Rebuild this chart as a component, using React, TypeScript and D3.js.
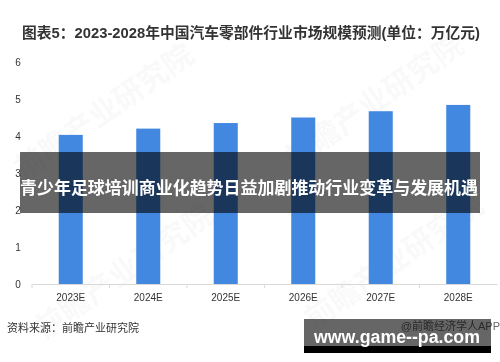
import React, { useRef, useEffect } from "react";
import * as d3 from "d3";

const years = ["2023E", "2024E", "2025E", "2026E", "2027E", "2028E"];
const marketSize = [4.03, 4.2, 4.35, 4.5, 4.67, 4.84];
const yTicks = [0, 1, 2, 3, 4, 5, 6];

const title = "图表5：2023-2028年中国汽车零部件行业市场规模预测(单位：万亿元)";
const banner = "青少年足球培训商业化趋势日益加剧推动行业变革与发展机遇";
const source = "资料来源：前瞻产业研究院";
const credit = "@前瞻经济学人APP";
const site = "www.game--pa.com";

const FONT = '"Liberation Sans", "Noto Sans CJK SC", sans-serif';

const App = () => {
  const ref = useRef<SVGSVGElement | null>(null);

  useEffect(() => {
    document.body.style.margin = "0";
    if (!ref.current) return;
    const svg = d3.select(ref.current);
    svg.selectAll("*").remove();

    const W = 500;
    const H = 362;

    svg.append("rect").attr("width", W).attr("height", H).attr("fill", "#fff");

    const x = d3.scaleBand().domain(years).range([32, 497]).paddingInner(0.69).paddingOuter(0.345);
    const y = d3.scaleLinear().domain([0, 6]).range([284, 62]);

    // watermarks
    const wm = svg.append("g").attr("fill", "#000").attr("opacity", 0.025)
      .style("font-family", FONT).style("font-weight", "bold").style("font-size", "30px");
    [[110, 120], [380, 110], [130, 280], [400, 270]].forEach(([cx, cy]) => {
      wm.append("text")
        .attr("transform", `translate(${cx},${cy}) rotate(-35)`)
        .attr("text-anchor", "middle")
        .text("前瞻产业研究院");
    });

    // title
    svg.append("text")
      .attr("x", 22).attr("y", 38)
      .attr("fill", "#333")
      .attr("textLength", 458).attr("lengthAdjust", "spacingAndGlyphs")
      .style("font-family", FONT).style("font-weight", "bold").style("font-size", "14.5px")
      .text(title);

    // y axis labels
    svg.append("g").selectAll("text").data(yTicks).enter().append("text")
      .attr("x", 18).attr("y", (d) => y(d) + 3.5)
      .attr("text-anchor", "middle")
      .attr("fill", "#333")
      .style("font-family", FONT).style("font-size", "10px")
      .text((d) => d);

    // bars
    svg.append("g").selectAll("rect").data(marketSize).enter().append("rect")
      .attr("x", (d, i) => x(years[i]) as number)
      .attr("y", (d) => y(d))
      .attr("width", x.bandwidth())
      .attr("height", (d) => y(0) - y(d))
      .attr("fill", "#4287e0");

    // x axis
    const xa = svg.append("g").attr("transform", `translate(0,${y(0)})`)
      .call(d3.axisBottom(x).tickSize(0).tickPadding(10));
    xa.select(".domain").attr("stroke", "#d9d9d9");
    xa.selectAll("text").attr("fill", "#333").style("font-family", FONT).style("font-size", "10px");
    const step = x.step();
    xa.append("g").selectAll("line").data(d3.range(years.length)).enter().append("line")
      .attr("x1", (i) => 32 + i * step).attr("x2", (i) => 32 + i * step)
      .attr("y1", 0).attr("y2", 4).attr("stroke", "#d9d9d9");

    // footer
    svg.append("text")
      .attr("x", 7).attr("y", 332)
      .attr("fill", "#333")
      .style("font-family", FONT).style("font-size", "11px")
      .text(source);
    svg.append("text")
      .attr("x", 500).attr("y", 330)
      .attr("text-anchor", "end")
      .attr("fill", "#666")
      .style("font-family", FONT).style("font-size", "11px")
      .text(credit);

    // overlay banner
    svg.append("rect")
      .attr("x", 20).attr("y", 152).attr("width", 460).attr("height", 61)
      .attr("fill", "#000").attr("opacity", 0.6);
    svg.append("text")
      .attr("x", 249).attr("y", 194)
      .attr("text-anchor", "middle")
      .attr("fill", "#fff")
      .attr("textLength", 458).attr("lengthAdjust", "spacingAndGlyphs")
      .style("font-family", FONT).style("font-weight", "bold").style("font-size", "17.5px")
      .text(banner);

    // site box
    svg.append("rect")
      .attr("x", 304).attr("y", 319).attr("width", 187).attr("height", 34)
      .attr("fill", "#000").attr("opacity", 0.6);
    svg.append("rect")
      .attr("x", 304).attr("y", 346).attr("width", 187).attr("height", 7)
      .attr("fill", "#000");
    svg.append("text")
      .attr("x", 397).attr("y", 343)
      .attr("text-anchor", "middle")
      .attr("fill", "#fff")
      .attr("textLength", 166).attr("lengthAdjust", "spacingAndGlyphs")
      .style("font-family", FONT).style("font-weight", "bold").style("font-size", "18px")
      .text(site);
  }, []);

  return <svg ref={ref} width={500} height={362} style={{ display: "block" }} />;
};

export default App;
